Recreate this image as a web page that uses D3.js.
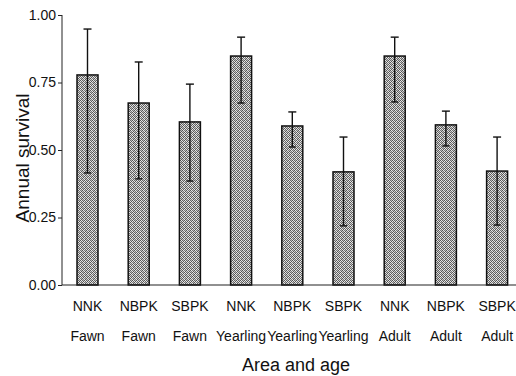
<!DOCTYPE html>
<html>
<head>
<meta charset="utf-8">
<script src="https://cdn.jsdelivr.net/npm/d3@7"></script>
<style>
  body { margin: 0; background: #fff; }
  svg { display: block; font-family: "Liberation Sans", Arial, sans-serif; }
</style>
</head>
<body>
<script>
const areas = ['NNK', 'NBPK', 'SBPK', 'NNK', 'NBPK', 'SBPK', 'NNK', 'NBPK', 'SBPK'],
    ages = ['Fawn', 'Fawn', 'Fawn', 'Yearling', 'Yearling', 'Yearling', 'Adult', 'Adult', 'Adult'],
    survival = [0.778, 0.674, 0.604, 0.848, 0.589, 0.419, 0.848, 0.593, 0.422],
    upper = [0.948, 0.826, 0.744, 0.918, 0.641, 0.548, 0.918, 0.644, 0.548],
    lower = [0.415, 0.393, 0.385, 0.674, 0.511, 0.219, 0.678, 0.515, 0.222],
    yTicks = [0, 0.25, 0.5, 0.75, 1];

const width = 516, height = 376,
    plotLeft = 62, plotRight = 516, plotTop = 15, plotBottom = 285,
    step = 51.2, barW = 21;

const svg = d3.select('body').append('svg')
    .attr('width', width)
    .attr('height', height);

// speckled grey texture for the bars (4x4 tile)
const tile = [
    '#555', '#e8e8e8', '#666', '#bbb',
    '#e8e8e8', '#666', '#e8e8e8', '#555',
    '#777', '#bbb', '#555', '#e8e8e8',
    '#e8e8e8', '#555', '#ccc', '#777'
];
const pat = svg.append('defs').append('pattern')
    .attr('id', 'checker')
    .attr('width', 4)
    .attr('height', 4)
    .attr('patternUnits', 'userSpaceOnUse');
pat.selectAll('rect')
    .data(tile)
    .join('rect')
    .attr('x', (d, i) => i % 4)
    .attr('y', (d, i) => Math.floor(i / 4))
    .attr('width', 1)
    .attr('height', 1)
    .attr('shape-rendering', 'crispEdges')
    .attr('fill', d => d);

const idx = d3.range(survival.length);

const x = d3.scaleBand()
    .domain(idx)
    .range([87.5 - step / 2, 87.5 + step * 8.5])
    .paddingInner(1 - barW / step)
    .paddingOuter((1 - barW / step) / 2);

const y = d3.scaleLinear()
    .domain([0, 1])
    .range([plotBottom, plotTop]);

// y axis
const yAxis = svg.append('g')
    .attr('transform', `translate(${plotLeft},0)`)
    .call(d3.axisLeft(y).tickValues(yTicks).tickFormat(d3.format('.2f')).tickSize(4).tickPadding(2));
yAxis.select('.domain').attr('stroke', '#222').attr('stroke-width', 1).attr('d', `M0,${plotTop}V${plotBottom}`);
yAxis.selectAll('.tick line').attr('stroke', '#222');
yAxis.selectAll('.tick text')
    .attr('font-size', 14)
    .attr('fill', '#111')
    .attr('font-family', '"Liberation Sans", Arial, sans-serif');

// bars
svg.append('g').selectAll('rect')
    .data(idx)
    .join('rect')
    .attr('x', i => x(i))
    .attr('y', i => y(survival[i]))
    .attr('width', x.bandwidth())
    .attr('height', i => y(0) - y(survival[i]))
    .attr('fill', 'url(#checker)')
    .attr('stroke', '#111')
    .attr('stroke-width', 1.5);

// error bars
const err = svg.append('g')
    .attr('stroke', '#111')
    .attr('stroke-width', 1.4);

err.selectAll('line.stem')
    .data(idx)
    .join('line')
    .attr('class', 'stem')
    .attr('x1', i => x(i) + x.bandwidth() / 2)
    .attr('x2', i => x(i) + x.bandwidth() / 2)
    .attr('y1', i => y(upper[i]))
    .attr('y2', i => y(lower[i]));

err.selectAll('line.cap-top')
    .data(idx)
    .join('line')
    .attr('class', 'cap-top')
    .attr('x1', i => x(i) + x.bandwidth() / 2 - 4)
    .attr('x2', i => x(i) + x.bandwidth() / 2 + 4)
    .attr('y1', i => y(upper[i]))
    .attr('y2', i => y(upper[i]));

err.selectAll('line.cap-bot')
    .data(idx)
    .join('line')
    .attr('class', 'cap-bot')
    .attr('x1', i => x(i) + x.bandwidth() / 2 - 3.5)
    .attr('x2', i => x(i) + x.bandwidth() / 2 + 3.5)
    .attr('y1', i => y(lower[i]))
    .attr('y2', i => y(lower[i]));

// x axis line
svg.append('line')
    .attr('x1', plotLeft)
    .attr('x2', plotRight)
    .attr('y1', plotBottom)
    .attr('y2', plotBottom)
    .attr('stroke', '#222')
    .attr('stroke-width', 1.2);

// category labels, two rows
const labels = svg.append('g')
    .attr('font-size', 14)
    .attr('fill', '#111')
    .attr('text-anchor', 'middle');

labels.selectAll('text.area')
    .data(idx)
    .join('text')
    .attr('class', 'area')
    .attr('x', i => x(i) + x.bandwidth() / 2)
    .attr('y', 311)
    .text(i => areas[i]);

labels.selectAll('text.age')
    .data(idx)
    .join('text')
    .attr('class', 'age')
    .attr('x', i => x(i) + x.bandwidth() / 2)
    .attr('y', 341)
    .text(i => ages[i]);

svg.append('text')
    .attr('x', 296)
    .attr('y', 371)
    .attr('text-anchor', 'middle')
    .attr('font-size', 18)
    .attr('fill', '#111')
    .text('Area and age');

svg.append('text')
    .attr('transform', 'translate(29,158) rotate(-90)')
    .attr('text-anchor', 'middle')
    .attr('font-size', 19)
    .attr('fill', '#111')
    .text('Annual survival');
</script>
</body>
</html>
